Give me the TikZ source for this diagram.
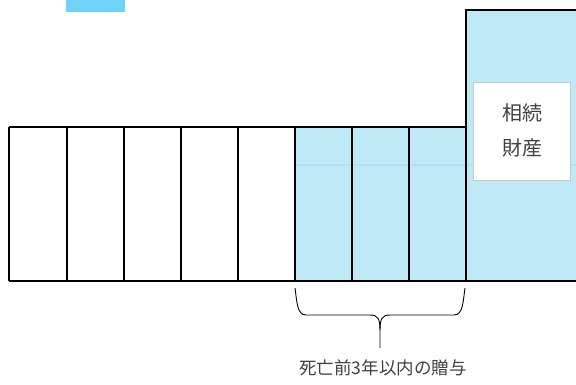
\documentclass[tikz,border=0pt]{standalone}
\usepackage{fontspec}
\newfontfamily\jp{Noto Sans CJK JP}
\definecolor{lblue}{HTML}{C0E9F8}
\definecolor{lband}{HTML}{ADE1F4}
\definecolor{topblue}{HTML}{6FD3F7}
\definecolor{txt}{HTML}{404040}
\definecolor{boxgray}{HTML}{C8C8C8}
\tikzset{
  thick line/.style={line width=2.3pt, black},
  cellline/.style={line width=2.3pt, black},
  labeltext/.style={text=txt, font=\jp\fontsize{17.5}{20}\selectfont, inner sep=0pt},
  boxtext/.style={text=txt, font=\jp\fontsize{20}{35}\selectfont, align=center, inner sep=0pt},
  bracestyle/.style={line width=0.9pt, black},
}
\begin{document}
\begin{tikzpicture}[x=1pt,y=-1pt]
\useasboundingbox (0,0) rectangle (576,385);
% top blue fragment
\fill[topblue] (66,0) rectangle (125,12);
% big blue area
\fill[lblue] (466,10) rectangle (577,281);
\fill[lblue] (295,127) rectangle (466,281);
\draw[lband, line width=1.5pt] (295,165) -- (577,165);
% cells
\draw[cellline] (9,127) -- (466,127);
\draw[cellline] (9,281) -- (577,281);
\foreach \x in {9,67,124,181,238,295,352,409} {
  \draw[cellline] (\x,127) -- (\x,281);
}
\draw[cellline] (466,281) -- (466,10) -- (577,10);
% text box
\node[draw=boxgray, line width=1pt, fill=white, minimum width=97pt, minimum height=98pt, inner sep=0pt] (box) at (522,132) {};
\node[boxtext] (t1) at (522,113) {相続};
\node[boxtext] (t2) at (522,148) {財産};
% brace
\coordinate (bl) at (295,288);
\coordinate (br) at (465,288);
\coordinate (bt) at (380,348);
\draw[bracestyle] (bl) .. controls (297,302) and (297,315) .. (306,315) -- (370,315) .. controls (378,315) and (380,319) .. (380,330) -- (bt);
\draw[bracestyle] (br) .. controls (463,302) and (463,315) .. (454,315) -- (390,315) .. controls (382,315) and (380,319) .. (380,330);
\node[labeltext] (lab) at (383,368) {死亡前3年以内の贈与};
\end{tikzpicture}
\end{document}
